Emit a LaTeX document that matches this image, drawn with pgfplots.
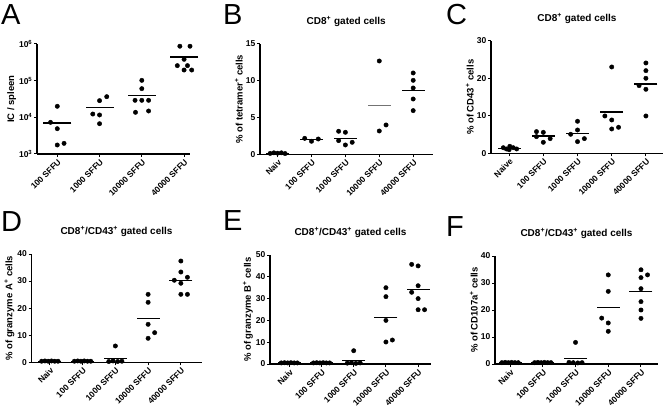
\documentclass[border=0pt]{standalone}
\usepackage{pgfplots}
\pgfplotsset{compat=1.18}
\usepackage{fontspec}
\setmainfont{Liberation Sans}
\setsansfont{Liberation Sans}

\pgfplotsset{
  gp/.style={
    scale only axis, axis lines*=left,
    axis line style={line width=1.1pt,-},
    tick align=outside, major tick length=3pt,
    every tick/.style={black, line width=1pt},
    clip=false,
    xtick={0,1,2,3,4},
    xticklabels={Naiv,100 SFFU,1000 SFFU,10000 SFFU,40000 SFFU},
    x tick label style={rotate=45, anchor=north east, inner sep=1pt,
      font=\bfseries\fontsize{8.4}{9}\selectfont},
    y tick label style={font=\bfseries\fontsize{8.5}{9}\selectfont, inner sep=1.5pt},
    /pgf/number format/assume math mode=true,
    label style={font=\bfseries\fontsize{9.5}{10}\selectfont},
    ylabel style={yshift=-2pt},
    title style={font=\bfseries\fontsize{10}{12}\selectfont, yshift=8pt},
    ymin=0,
  },
  dots/.style={only marks, mark=*, mark size=2.2pt, black},
  means/.style={only marks, mark=-, mark size=11.5pt, black,
    mark options={line width=1.1pt}},
}

\begin{document}
\begin{tikzpicture}
\path[use as bounding box] (0,0) rectangle (664pt,407pt);

% panel letters
\begin{scope}[every node/.style={anchor=north west, inner sep=0pt,
    font=\fontsize{29}{29}\selectfont}]
\node at (1pt,403pt) {A};
\node at (223pt,403pt) {B};
\node at (446pt,403pt) {C};
\node at (1pt,196pt) {D};
\node at (223pt,197pt) {E};
\node at (446pt,191pt) {F};
\end{scope}

% A
\begin{axis}[gp, at={(37pt,253pt)}, anchor=south west,
  width=153pt, height=110pt,
  xmin=-0.48, xmax=3.14,
  xtick={0,1,2,3},
  xticklabels={100 SFFU,1000 SFFU,10000 SFFU,40000 SFFU},
  ymode=log, ymin=1e3, ymax=1e6, yminorticks=false,
  ytick={1e3,1e4,1e5,1e6},
  yticklabels={10\textsuperscript{3},10\textsuperscript{4},10\textsuperscript{5},10\textsuperscript{6}},
  ylabel={IC / spleen}]
\addplot[dots] coordinates {
  (0,20000) (-0.16,7300) (0,4900) (0,1760) (0.16,1950)
  (1.17,36600) (1,28500) (0.84,12300) (1,11600) (1,6700)
  (2,102000) (2,60500) (1.84,29100) (2,29100) (2.16,29100) (1.85,13700) (2.16,14900)
  (2.9,870000) (3.14,870000) (3,382000) (2.84,257000) (3.08,257000) (3,195000) (3.18,195000)
};
\addplot[means, mark size=14pt] coordinates {(0,7000) (1,18600) (2,39000) (3,442000)};
\end{axis}

% B
\begin{axis}[gp, at={(260pt,252.7pt)}, anchor=south west,
  width=172.5pt, height=110.3pt,
  xmin=-0.52, xmax=4.57,
  ymax=15, ytick={0,5,10,15},
  title={CD8\textsuperscript{+} gated cells},
  ylabel={\% of tetramer\textsuperscript{+} cells}]
\addplot[dots] coordinates {
  (-0.22,0.12) (-0.11,0.2) (0,0.15) (0.11,0.2) (0.22,0.1)
  (0.8,2.17) (1,1.77) (1.2,2.08)
  (1.8,3.13) (2,2.99) (1.8,1.86) (2,1.27) (2.2,1.63)
  (3,12.69) (3,3.17) (3.2,3.99)
  (4,11.06) (4,10.06) (4,9.02) (4,7.52) (4,5.94)
};
\addplot[means] coordinates {(0,0.15) (1,2.0) (2,2.15) (4,8.7)};
\addplot[means, black!55] coordinates {(3,6.62)};
\end{axis}

% C
\begin{axis}[gp, at={(491pt,253.7pt)}, anchor=south west,
  width=172pt, height=112.3pt,
  xmin=-0.53, xmax=4.5,
  xticklabels={Naive,100 SFFU,1000 SFFU,10000 SFFU,40000 SFFU},
  ymax=30, ytick={0,10,20,30},
  title={CD8\textsuperscript{+} gated cells},
  ylabel={\% of CD43\textsuperscript{+} cells}]
\addplot[dots] coordinates {
  (-0.17,1.5) (-0.08,1.16) (0.02,1.87) (0.12,1.5) (0.22,1.16) (0,0.95)
  (0.8,5.79) (1,5.6) (0.8,4.45) (1.2,3.92) (1,2.94)
  (2,8.55) (1.8,5.08) (2,6.23) (2,3.12) (2.2,3.92)
  (3,23.06) (2.8,9.97) (3,8.9) (3,6.5) (3.2,6.95)
  (4,24.13) (4,22.08) (4,20.04) (3.8,18.08) (4,17.1) (4,9.97)
};
\addplot[means] coordinates {(0,1.34) (1,4.63) (2,5.34) (3,11.04) (4,18.52)};
\end{axis}

% D
\begin{axis}[gp, at={(31.5pt,44.7pt)}, anchor=south west,
  width=170pt, height=108.3pt,
  xmin=-0.56, xmax=4.63,
  ymax=40, ytick={0,10,20,30,40},
  title={CD8\textsuperscript{+}/CD43\textsuperscript{+} gated cells},
  ylabel={\% of granzyme A\textsuperscript{+} cells}]
\addplot[dots] coordinates {
  (-0.25,0.4) (-0.15,0.5) (-0.05,0.4) (0.05,0.5) (0.15,0.4) (0.25,0.4)
  (0.75,0.4) (0.85,0.5) (0.95,0.4) (1.05,0.5) (1.15,0.4) (1.25,0.4)
  (2,6.03) (1.8,0.3) (1.93,0.5) (2.07,0.3) (2.2,0.4)
  (3,25.1) (3,22.15) (3,14.03) (3.2,10.95) (3,8.86)
  (4,37.4) (4,33.35) (3.8,30.3) (4,29.2) (4.2,31.4) (4,25.1) (4.2,25.1)
};
\addplot[means] coordinates {(0,0.4) (1,0.4) (2,1.4) (3,16.2) (4,30.15)};
\end{axis}

% E
\begin{axis}[gp, at={(270pt,43pt)}, anchor=south west,
  width=161pt, height=109pt,
  xmin=-0.6, xmax=4.4,
  ymax=50, ytick={0,10,20,30,40,50},
  title={CD8\textsuperscript{+}/CD43\textsuperscript{+} gated cells},
  ylabel={\% of granzyme B\textsuperscript{+} cells}]
\addplot[dots] coordinates {
  (-0.25,0.5) (-0.15,0.6) (-0.05,0.5) (0.05,0.6) (0.15,0.5) (0.25,0.5)
  (0.75,0.5) (0.85,0.6) (0.95,0.5) (1.05,0.6) (1.15,0.5) (1.25,0.5)
  (2,6.1) (1.8,0.4) (1.93,0.6) (2.07,0.3) (2.2,0.5)
  (3,35.0) (3,30.9) (3,20.0) (3,10.1) (3.2,11.0)
  (3.8,45.7) (4,45.0) (4,35.9) (3.8,32.9) (4,30.0) (4,24.9) (4.2,24.9)
};
\addplot[means] coordinates {(0,0.5) (1,0.5) (2,1.5) (3,21.4) (4,34.0)};
\end{axis}

% F
\begin{axis}[gp, at={(495pt,43pt)}, anchor=south west,
  width=163pt, height=108pt,
  xmin=-0.46, xmax=4.52,
  ymax=40, ytick={0,10,20,30,40},
  title={CD8\textsuperscript{+}/CD43\textsuperscript{+} gated cells},
  ylabel={\% of CD107a\textsuperscript{+} cells}]
\addplot[dots] coordinates {
  (-0.25,0.5) (-0.15,0.6) (-0.05,0.5) (0.05,0.6) (0.15,0.5) (0.25,0.5)
  (0.75,0.5) (0.85,0.6) (0.95,0.5) (1.05,0.6) (1.15,0.5) (1.25,0.5)
  (2,8.0) (1.8,0.6) (1.93,0.5) (2.07,0.4) (2.2,0.5)
  (3,33.0) (3,26.9) (2.8,17.0) (3,15.2) (3,12.1)
  (4,34.9) (4,32.0) (4.2,33.0) (4,27.9) (4,23.1) (4,20.0) (4,16.9)
};
\addplot[means] coordinates {(0,0.5) (1,0.5) (2,2.0) (3,20.8) (4,26.8)};
\end{axis}
\end{tikzpicture}
\end{document}
